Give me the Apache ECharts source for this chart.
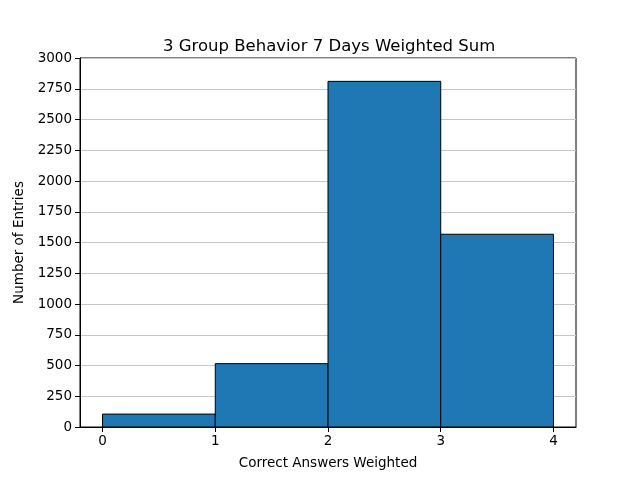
<!DOCTYPE html>
<html>
<head>
<meta charset="utf-8">
<script src="https://cdn.jsdelivr.net/npm/echarts@6/dist/echarts.min.js"></script>
<style>
  html, body { margin: 0; padding: 0; background: #fff; }
  #chart { width: 640px; height: 480px; }
</style>
</head>
<body>
<div id="chart"></div>
<script>
// histogram bins (left edge, right edge) and counts
var binStarts = [0, 1, 2, 3];
var binEnds = [1, 2, 3, 4];
var counts = [105, 515, 2810, 1567];
var xTicks = [0, 1, 2, 3, 4];

var rects = [];
for (var i = 0; i < counts.length; i++) {
    rects.push([binStarts[i], binEnds[i], counts[i]]);
}

var font = "DejaVu Sans";

var option = {
    animation: false,
    textStyle: { fontFamily: font },
    title: {
        text: "3 Group Behavior 7 Days Weighted Sum",
        left: 158,
        top: 33,
        textStyle: { fontFamily: font, fontSize: 16.5, fontWeight: "normal", color: "#000" }
    },
    grid: {
        left: 80, right: 64, top: 58, bottom: 53,
        show: true,
        borderColor: "#000",
        borderWidth: 1
    },
    xAxis: {
        type: "value",
        min: -0.2,
        max: 4.2,
        name: "Correct Answers Weighted",
        nameLocation: "middle",
        nameGap: 29,
        nameTextStyle: { fontFamily: font, fontSize: 13.5, color: "#000" },
        axisLine: { show: true, onZero: false, lineStyle: { color: "#000" } },
        axisTick: { show: true, length: 5, customValues: xTicks, lineStyle: { color: "#000" } },
        axisLabel: { customValues: xTicks, fontSize: 13.5, color: "#000", margin: 7 },
        splitLine: { show: false }
    },
    yAxis: {
        type: "value",
        min: 0,
        max: 3000,
        interval: 250,
        name: "Number of Entries",
        nameLocation: "middle",
        nameGap: 49,
        nameTextStyle: { fontFamily: font, fontSize: 13.5, color: "#000" },
        axisLine: { show: true, onZero: false, lineStyle: { color: "#000" } },
        axisTick: { show: true, length: 5, lineStyle: { color: "#000" } },
        axisLabel: {
            fontSize: 13.5, color: "#000", margin: 8,
            formatter: function (v) { return String(v); }
        },
        splitLine: { show: true, lineStyle: { color: "#c6c6c6", width: 1 } }
    },
    series: [
        {
            type: "custom",
            data: rects,
            encode: { x: [0, 1], y: 2 },
            renderItem: function (params, api) {
                var p0 = api.coord([api.value(0), api.value(2)]);
                var p1 = api.coord([api.value(1), 0]);
                return {
                    type: "rect",
                    shape: { x: p0[0], y: p0[1], width: p1[0] - p0[0], height: p1[1] - p0[1] },
                    style: { fill: "#1f77b4", stroke: "#000", lineWidth: 1 }
                };
            }
        }
    ]
};

var myChart = echarts.init(document.getElementById("chart"));
myChart.setOption(option);
</script>
</body>
</html>
